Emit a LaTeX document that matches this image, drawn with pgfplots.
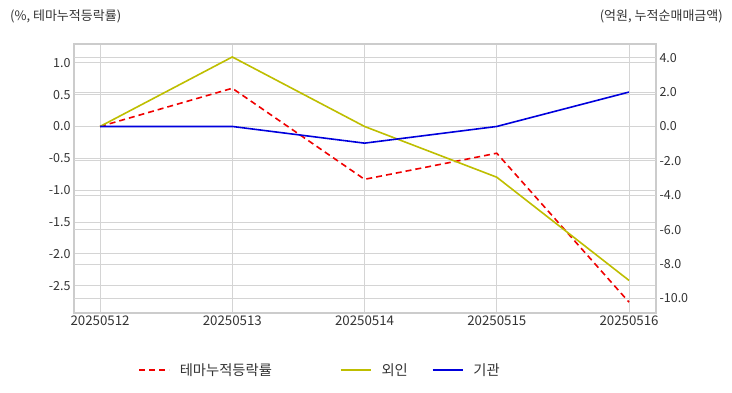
\documentclass[border=0pt]{standalone}
\usepackage{fontspec}
\setmainfont{Noto Sans CJK KR}
\usepackage{pgfplots}
\pgfplotsset{compat=1.18}
\definecolor{gridc}{RGB}{212,212,212}
\definecolor{framec}{RGB}{204,204,204}
\definecolor{txt}{RGB}{51,51,51}
\definecolor{cred}{RGB}{240,0,0}
\definecolor{cyel}{RGB}{190,190,0}
\definecolor{cblu}{RGB}{0,0,220}
\begin{document}
\begin{tikzpicture}
\useasboundingbox (-74pt,-79.3pt) rectangle (658pt,312.7pt);
\pgfplotsset{
  base/.style={
    at={(0pt,0pt)}, anchor=south west,
    scale only axis, width=582pt, height=269pt,
    xmin=-0.197, xmax=4.204,
    tick style={draw=none},
    /pgf/number format/assume math mode=true,
    yticklabel={\pgfmathprintnumber[fixed,fixed zerofill,precision=1]{\tick}},
    yticklabel style={font=\fontsize{12.5}{14}\selectfont, text=txt},
    xticklabel style={font=\fontsize{13.3}{15}\selectfont, text=txt},
  }
}
\begin{axis}[base,
  ymin=-2.925, ymax=1.30,
  xtick={0,1,2,3,4},
  xticklabels={20250512,20250513,20250514,20250515,20250516},
  ytick={-2.5,-2,-1.5,-1,-0.5,0,0.5,1},
  extra y ticks={1.0808,0.5404,-0.5404,-1.0808,-1.6212,-2.1616,-2.702},
  extra y tick labels={},
  extra y tick style={grid=major},
  grid=major, grid style={gridc, line width=0.9pt},
  axis line style={framec, line width=1.8pt},
]
\addplot[cred, line width=1.6pt, dash pattern=on 6pt off 4pt] coordinates {(0,0) (1,0.60) (2,-0.83) (3,-0.42) (4,-2.76)};
\end{axis}
\begin{axis}[base,
  ymin=-10.826, ymax=4.811,
  axis y line*=right, axis x line=none,
  axis line style={draw=none},
  ytick={-10,-8,-6,-4,-2,0,2,4},
  legend columns=3,
  legend style={draw=none, fill=none, at={(0.11,-0.213)}, anchor=west,
    inner sep=0pt, column sep=0pt, font=\fontsize{14.3}{16}\selectfont,
    nodes={inner sep=0pt, text=txt},
    /tikz/every odd column/.append style={column sep=10pt},
    /tikz/every even column/.append style={column sep=24pt}},
  legend image code/.code={\draw[#1] (0pt,0pt) -- (30pt,0pt);},
]
\addlegendimage{cred, line width=1.6pt, dash pattern=on 6pt off 4pt}
\addlegendentry{테마누적등락률\hspace*{44pt}\mbox{}}
\addplot[cyel, line width=1.6pt] coordinates {(0,0) (1,4.04) (2,0) (3,-2.95) (4,-8.95)};
\addlegendentry{외인}
\addplot[cblu, line width=1.6pt] coordinates {(0,0) (1,0) (2,-0.97) (3,0) (4,2.0)};
\addlegendentry{기관}
\end{axis}
\node[anchor=west, text=txt, font=\fontsize{13}{15}\selectfont, inner sep=0pt] at (-64pt,296.7pt) {(\%, 테마누적등락률)};
\node[anchor=east, text=txt, font=\fontsize{13}{15}\selectfont, inner sep=0pt] at (649pt,296.7pt) {(억원, 누적순매매금액)};
\end{tikzpicture}
\end{document}
